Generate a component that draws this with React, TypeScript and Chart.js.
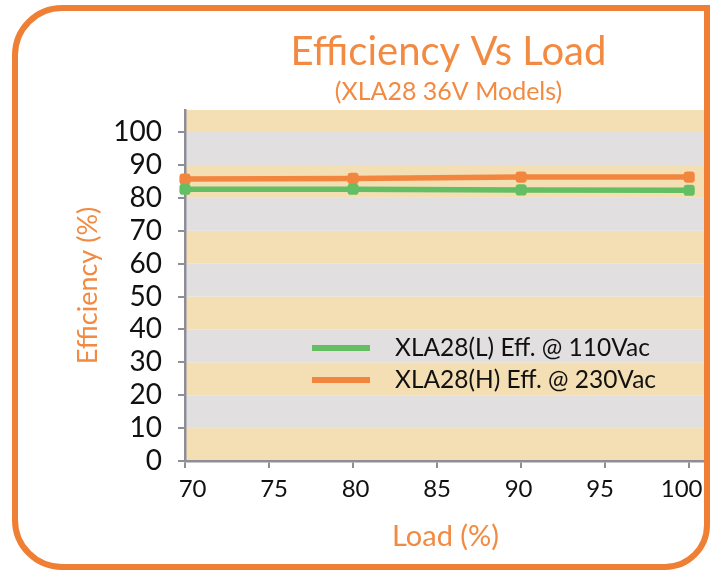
import React, { useEffect, useRef } from "react";
import { Chart, registerables } from "chart.js";

Chart.register(...registerables);

const loads = [70, 80, 90, 100];
const effLow = [82.6, 82.6, 82.4, 82.3];
const effHigh = [85.7, 85.9, 86.3, 86.3];
const seriesLabels = ["XLA28(L) Eff. @ 110Vac", "XLA28(H) Eff. @ 230Vac"];
const yTickValues = [0, 10, 20, 30, 40, 50, 60, 70, 80, 90, 100];
const xTickValues = [70, 75, 80, 85, 90, 95, 100];
const titleText = "Efficiency Vs Load";
const subtitleText = "(XLA28 36V Models)";
const yTitle = "Efficiency (%)";
const xTitle = "Load (%)";

const ORANGE = "#F2863F";
const GREEN = "#64BE64";
const TITLE_ORANGE = "#F28A42";
const TAN = "#F4DEB4";
const GREY = "#E1DFE0";
const AXIS = "#8E8E98";
const FONT = "Lato";

const bandsPlugin = {
  id: "bands",
  beforeDraw(chart: any) {
    const { ctx, chartArea } = chart;
    const y = chart.scales.y;
    const max = y.max;
    ctx.save();
    for (let v = 0, i = 0; v < max; v += 10, i++) {
      const top = y.getPixelForValue(Math.min(v + 10, max));
      const bot = y.getPixelForValue(v);
      ctx.fillStyle = i % 2 === 0 ? TAN : GREY;
      ctx.fillRect(chartArea.left, top, chartArea.right - chartArea.left, bot - top);
    }
    ctx.restore();
  },
};

const titlesPlugin = {
  id: "titles",
  afterDraw(chart: any) {
    const { ctx, chartArea } = chart;
    const cx = (chartArea.left + chartArea.right) / 2 + 3;
    ctx.save();
    ctx.fillStyle = TITLE_ORANGE;
    ctx.textAlign = "center";
    ctx.textBaseline = "alphabetic";
    ctx.font = `40px ${FONT}`;
    ctx.fillText(titleText, cx, 65);
    ctx.font = `25px ${FONT}`;
    ctx.fillText(subtitleText, cx, 100);
    ctx.restore();
  },
};

// x tick labels, placed from the x scale's own pixels (slightly drawn in toward the middle as in the source)
const xLabelsPlugin = {
  id: "xLabels",
  afterDraw(chart: any) {
    const { ctx } = chart;
    const x = chart.scales.x;
    const mid = x.getPixelForValue((xTickValues[0] + xTickValues[xTickValues.length - 1]) / 2);
    ctx.save();
    ctx.fillStyle = "#111";
    ctx.font = `24px ${FONT}`;
    ctx.textAlign = "center";
    ctx.textBaseline = "middle";
    xTickValues.forEach((v) => {
      const px = x.getPixelForValue(v);
      ctx.fillText(String(v), mid + (px - mid) * 0.97, x.top + 28);
    });
    ctx.restore();
  },
};

const legendPlugin = {
  id: "innerLegend",
  afterDatasetsDraw(chart: any) {
    const { ctx, chartArea } = chart;
    const x1 = chartArea.left + 127;
    const x2 = chartArea.left + 185;
    const tx = chartArea.left + 210;
    const y0 = 348;
    const gap = 32;
    ctx.save();
    chart.data.datasets.forEach((ds: any, i: number) => {
      const yy = y0 + i * gap;
      ctx.strokeStyle = ds.borderColor;
      ctx.lineWidth = 6;
      ctx.beginPath();
      ctx.moveTo(x1, yy);
      ctx.lineTo(x2, yy);
      ctx.stroke();
      ctx.fillStyle = "#111";
      ctx.font = `24.5px ${FONT}`;
      ctx.textAlign = "left";
      ctx.textBaseline = "middle";
      ctx.fillText(ds.label, tx, yy);
    });
    ctx.restore();
  },
};

export default function App() {
  const ref = useRef<HTMLCanvasElement | null>(null);

  useEffect(() => {
    if (!ref.current) return;
    const chart = new Chart(ref.current, {
      type: "line",
      data: {
        datasets: [
          {
            label: seriesLabels[0],
            data: loads.map((x, i) => ({ x, y: effLow[i] })),
            borderColor: GREEN,
            backgroundColor: GREEN,
            borderWidth: 5.5,
            pointStyle: "rectRounded",
            pointRadius: 6.5,
            pointBorderWidth: 0,
            pointBackgroundColor: GREEN,
            clip: false,
          },
          {
            label: seriesLabels[1],
            data: loads.map((x, i) => ({ x, y: effHigh[i] })),
            borderColor: ORANGE,
            backgroundColor: ORANGE,
            borderWidth: 5.5,
            pointStyle: "rectRounded",
            pointRadius: 6.5,
            pointBorderWidth: 0,
            pointBackgroundColor: ORANGE,
            clip: false,
          },
        ],
      },
      options: {
        animation: false,
        responsive: false,
        devicePixelRatio: 1,
        layout: { padding: { top: 110, left: 0, right: 13, bottom: 0 } },
        plugins: {
          legend: { display: false },
          title: { display: false },
          tooltip: { enabled: false },
        },
        scales: {
          x: {
            type: "linear",
            min: 70,
            max: 101,
            afterBuildTicks: (s: any) => {
              s.ticks = xTickValues.map((v) => ({ value: v }));
            },
            afterFit: (s: any) => {
              s.height = 111;
            },
            grid: {
              display: true,
              drawOnChartArea: false,
              drawTicks: true,
              tickLength: 7,
              color: AXIS,
              lineWidth: 2,
            },
            border: { display: true, color: AXIS, width: 2.5 },
            ticks: {
              display: false,
              autoSkip: false,
            },
            title: {
              display: true,
              text: xTitle,
              color: TITLE_ORANGE,
              font: { family: FONT, size: 29 },
              padding: { top: 0, bottom: 18 },
            },
          },
          y: {
            type: "linear",
            min: 0,
            max: 106.7,
            afterBuildTicks: (s: any) => {
              s.ticks = yTickValues.map((v) => ({ value: v }));
            },
            afterFit: (s: any) => {
              s.width = 185;
            },
            grid: {
              display: true,
              drawOnChartArea: false,
              drawTicks: true,
              tickLength: 7,
              color: AXIS,
              lineWidth: 2,
            },
            border: { display: true, color: AXIS, width: 2.5 },
            ticks: {
              color: "#111",
              font: { family: FONT, size: 28 },
              padding: 16,
              autoSkip: false,
            },
            title: {
              display: true,
              text: yTitle,
              color: TITLE_ORANGE,
              font: { family: FONT, size: 27 },
              padding: { top: 72, bottom: 0 },
            },
          },
        },
      },
      plugins: [bandsPlugin, titlesPlugin, xLabelsPlugin, legendPlugin],
    } as any);
    return () => chart.destroy();
  }, []);

  return (
    <div style={{ position: "fixed", left: 0, top: 0, width: 719, height: 572, background: "#fff" }}>
      <canvas ref={ref} width={719} height={572} style={{ position: "absolute", left: 0, top: 0 }} />
      <div
        style={{
          position: "absolute",
          left: 12,
          top: 5,
          width: 698,
          height: 565,
          boxSizing: "border-box",
          border: "6px solid #EE7F34",
          borderRadius: "50px 0 45px 50px",
          pointerEvents: "none",
        }}
      />
    </div>
  );
}
